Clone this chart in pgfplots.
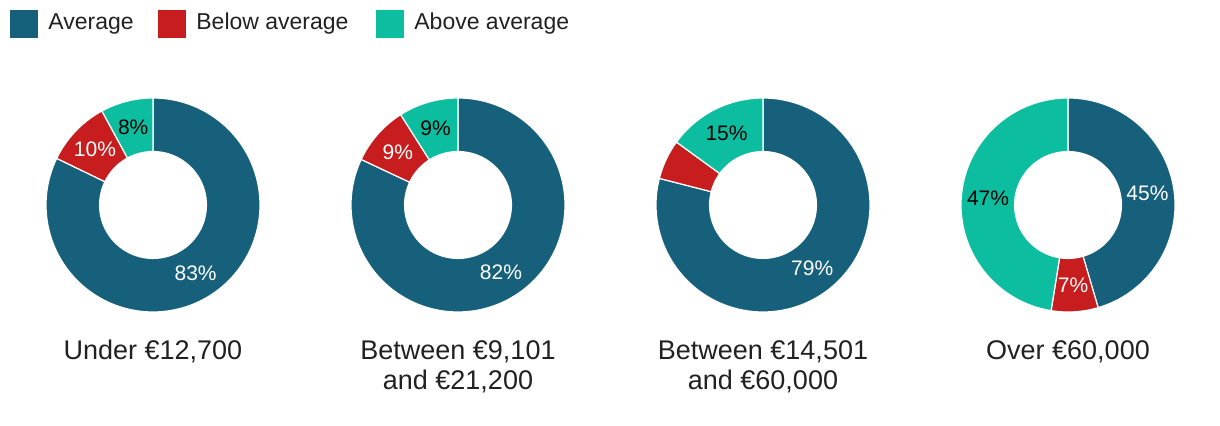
\documentclass[border=0pt]{standalone}
\usepackage{pgfplots}
\pgfplotsset{compat=1.18}
\usepackage{pgfplotstable}
\usepackage{fontspec}
\setmainfont{Liberation Sans}
\definecolor{cavg}{HTML}{17607B}
\definecolor{cbel}{HTML}{C81D1E}
\definecolor{cabv}{HTML}{0DBD9F}

\pgfplotstableread{
idx avg below above
0 83 10 8
1 82 9 9
2 79 6 15
3 45 7 47
}\donutdata

\newcommand{\pctfont}{\fontsize{10.5}{12}\selectfont}
\newcommand{\catfont}{\fontsize{13.5}{15}\selectfont}

% #1 row, #2 x centre, #3 category text, #4 show below label (1/0)
\newcommand{\donut}[4]{%
  \pgfplotstablegetelem{#1}{avg}\of\donutdata \edef\pa{\pgfplotsretval}%
  \pgfplotstablegetelem{#1}{below}\of\donutdata \edef\pb{\pgfplotsretval}%
  \pgfplotstablegetelem{#1}{above}\of\donutdata \edef\pc{\pgfplotsretval}%
  \pgfmathsetmacro\tot{\pa+\pb+\pc}%
  \pgfmathsetmacro\fa{\pa/\tot}%
  \pgfmathsetmacro\fb{\pb/\tot}%
  \pgfmathsetmacro\aB{90-360*\fa}%
  \pgfmathsetmacro\aC{\aB-360*\fb}%
  \pgfmathsetmacro\mA{(90+\aB)/2}%
  \pgfmathsetmacro\mB{(\aB+\aC)/2}%
  \pgfmathsetmacro\mC{(\aC-270)/2}%
  \pgfmathsetmacro\xA{0.75*cos(\mA)}\pgfmathsetmacro\yA{0.75*sin(\mA)}%
  \pgfmathsetmacro\xB{0.75*cos(\mB)}\pgfmathsetmacro\yB{0.75*sin(\mB)}%
  \pgfmathsetmacro\xC{0.75*cos(\mC)}\pgfmathsetmacro\yC{0.75*sin(\mC)}%
  \begin{axis}[at={(#2,110.5pt)}, anchor=center, width=107pt, height=107pt,
    scale only axis, xmin=-1, xmax=1, ymin=-1, ymax=1, hide axis, clip=false]
    \addplot[fill=cavg, draw=white, line width=0.6pt, domain=\aB:90, samples=150]
      ({cos(x)},{sin(x)}) -- (axis cs:0,0) -- cycle;
    \addplot[fill=cbel, draw=white, line width=0.6pt, domain=\aC:\aB, samples=60]
      ({cos(x)},{sin(x)}) -- (axis cs:0,0) -- cycle;
    \addplot[fill=cabv, draw=white, line width=0.6pt, domain=-270:\aC, samples=100]
      ({cos(x)},{sin(x)}) -- (axis cs:0,0) -- cycle;
    \addplot[fill=white, draw=none, domain=0:360, samples=150]
      ({0.505*cos(x)},{0.505*sin(x)}) -- cycle;
    \node[text=white, font=\pctfont] at (axis cs:\xA,\yA) {\pa\%};
    \ifnum#4=1 \node[text=white, font=\pctfont] at (axis cs:\xB,\yB) {\pb\%};\fi
    \node[text=black, font=\pctfont] at (axis cs:\xC,\yC) {\pc\%};
    \node[anchor=north, inner sep=0pt, align=center, font=\catfont, text=black!87]
      at (axis cs:0,-1.26) {#3};
  \end{axis}%
}

\begin{document}
\begin{tikzpicture}
  \path[use as bounding box] (0,0) rectangle (610pt,213pt);
  % legend
  \fill[cavg] (5pt,194pt) rectangle (19pt,208pt);
  \node[anchor=west, inner sep=0pt, font=\fontsize{11.5}{13}\selectfont, text=black!87] at (24pt,201pt) {Average};
  \fill[cbel] (79pt,194pt) rectangle (93pt,208pt);
  \node[anchor=west, inner sep=0pt, font=\fontsize{11.5}{13}\selectfont, text=black!87] at (98pt,201pt) {Below average};
  \fill[cabv] (188pt,194pt) rectangle (202pt,208pt);
  \node[anchor=west, inner sep=0pt, font=\fontsize{11.5}{13}\selectfont, text=black!87] at (207pt,201pt) {Above average};
  \donut{0}{76.5pt}{Under €12,700}{1}
  \donut{1}{229pt}{Between €9,101\\and €21,200}{1}
  \donut{2}{381.5pt}{Between €14,501\\and €60,000}{0}
  \donut{3}{534pt}{Over €60,000}{1}
\end{tikzpicture}
\end{document}
